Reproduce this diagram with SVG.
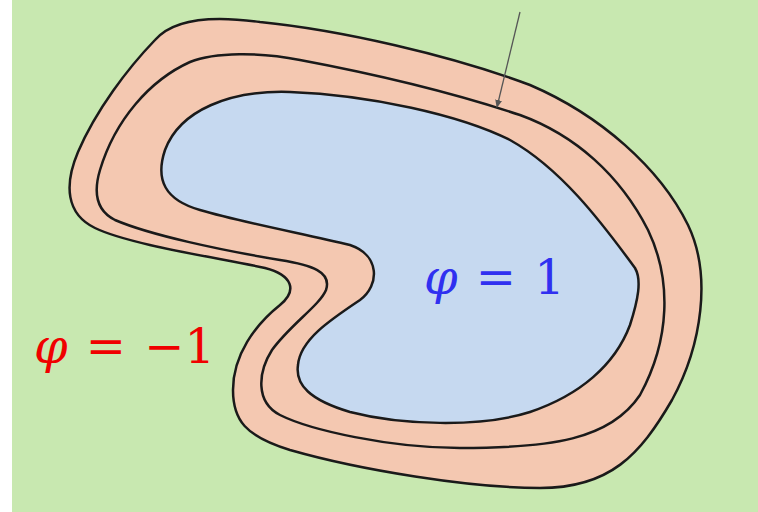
<svg xmlns="http://www.w3.org/2000/svg" width="758" height="512" viewBox="0 0 758 512">
<defs>
<style>
.band{fill:#f4c8b1;stroke:#1a1a1a;stroke-width:2.5;stroke-linejoin:round}
.core{fill:#c6d9f0;stroke:#1a1a1a;stroke-width:2.5;stroke-linejoin:round}
.lbl{font-family:"DejaVu Serif","Liberation Serif",serif;font-size:48px;word-spacing:3px}
</style>
<marker id="ah" markerWidth="8" markerHeight="8" refX="7" refY="4" orient="auto" markerUnits="userSpaceOnUse">
<path d="M0,0.5 L8,4 L0,7.5 Z" fill="#555"/>
</marker>
</defs>
<rect x="0" y="0" width="758" height="512" fill="#ffffff"/>
<rect x="12" y="0" width="746" height="512" fill="#c8e8b0"/>
<g id="outer">
<path class="band" d="M155,40 C172,20 210,15 260,22 C340,30 450,55 530,85 C600,115 660,168 688,225 C712,275 702,345 672,400 C640,455 610,488 540,488 C470,488 360,470 290,450 C245,436 233,420 233,390 C233,355 255,325 280,305 C298,290 292,275 265,268 C220,258 130,245 95,228 C66,214 64,185 78,152 C96,110 128,68 155,40 Z"/>
</g>
<g id="middle">
<path class="band" d="M100,170 C115,120 150,80 190,62 C215,52 260,52 300,60 C380,75 460,95 520,115 C575,135 620,175 648,230 C672,280 670,340 640,395 C610,440 550,448 460,448 C390,448 310,430 280,415 C255,402 258,372 272,350 C290,325 320,305 326,290 C332,272 312,265 280,260 C220,250 150,235 115,220 C95,210 94,190 100,170 Z"/>
</g>
<g id="inner">
<path class="core" d="M165,150 C180,110 230,90 290,92 C370,95 460,115 510,140 C560,168 600,220 635,268 C642,280 638,300 630,325 C615,365 580,395 530,412 C480,428 400,425 350,412 C310,400 295,385 298,365 C300,340 330,320 360,300 C380,285 380,255 350,245 C310,235 240,222 200,210 C165,200 155,180 165,150 Z"/>
</g>
<g id="connectors">
<line x1="520" y1="12" x2="497" y2="107" stroke="#555" stroke-width="1.3" marker-end="url(#ah)"/>
</g>
<g id="label-inside">
<text class="lbl" x="424" y="294" fill="#3030f0"><tspan font-style="italic">φ</tspan> = 1</text>
</g>
<g id="label-outside">
<text class="lbl" x="34" y="363" fill="#f00000"><tspan font-style="italic">φ</tspan> = −1</text>
</g>
</svg>
